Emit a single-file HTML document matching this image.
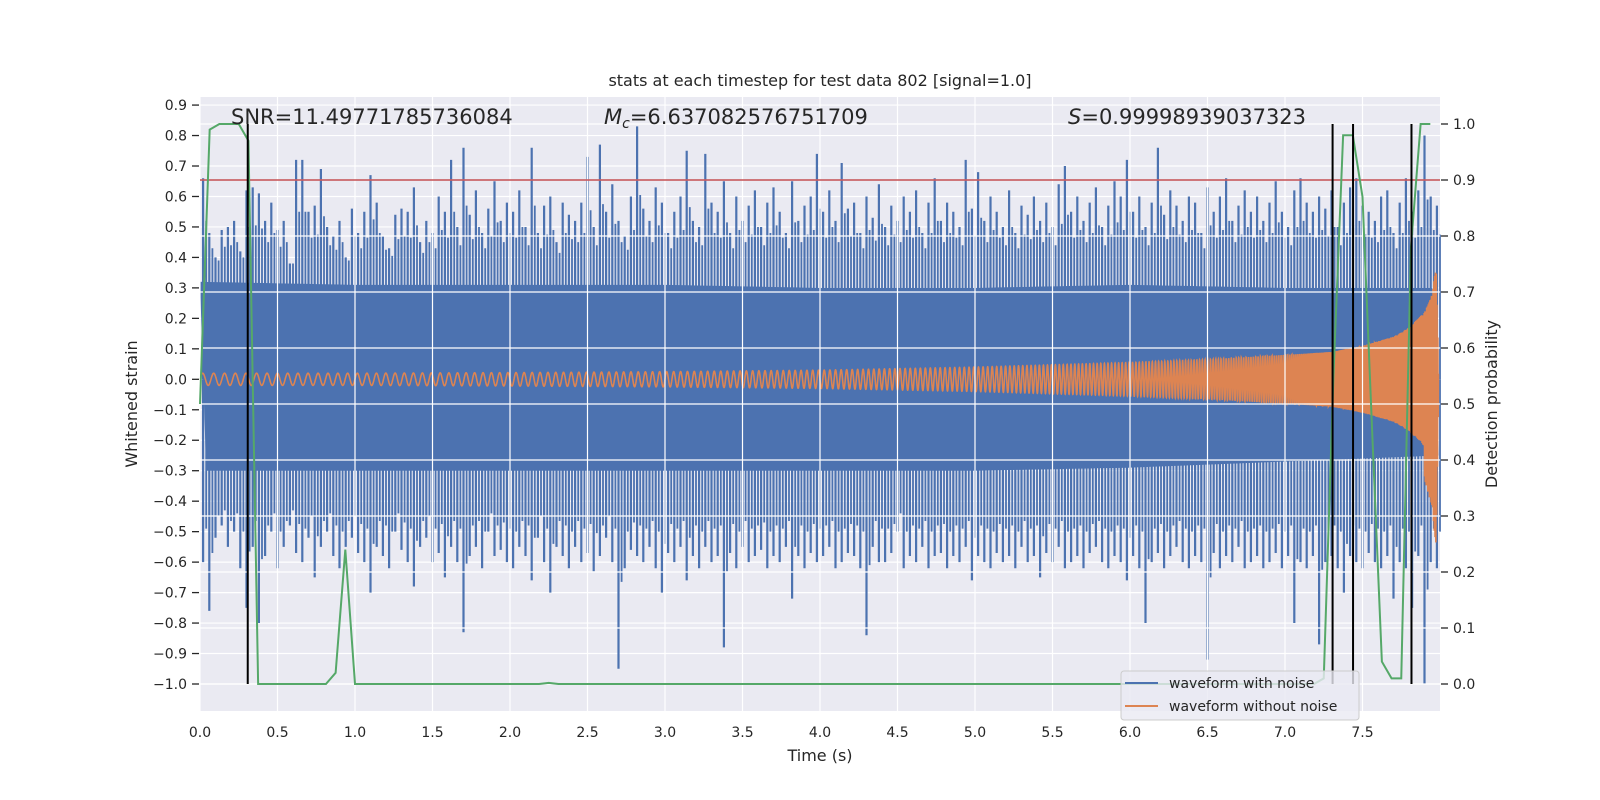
<!DOCTYPE html>
<html><head><meta charset="utf-8"><style>
body{margin:0;background:#fff;}
svg{display:block;font-family:"DejaVu Sans","Liberation Sans",sans-serif;}
</style></head><body>
<svg id="chart" width="1600" height="800" viewBox="0 0 1600 800">
<rect x="200" y="97" width="1240" height="614" fill="#eaeaf2"/>
<g id="gridUnder"></g>
<g id="blue"></g>
<g id="orange"></g>
<g id="gridOver"></g>
<g id="right"></g>
<g id="ticks"></g>
<text x="820" y="86" font-size="16" text-anchor="middle" fill="#262626">stats at each timestep for test data 802 [signal=1.0]</text>
<text x="231" y="124" font-size="21" fill="#262626">SNR=11.49771785736084</text>
<text x="604" y="124" font-size="21" fill="#262626"><tspan font-style="italic">M</tspan><tspan font-style="italic" font-size="14" dy="4">c</tspan><tspan dy="-4">=6.637082576751709</tspan></text>
<text x="1068" y="124" font-size="21" fill="#262626"><tspan font-style="italic">S</tspan>=0.99998939037323</text>
<text x="820" y="761" font-size="16" text-anchor="middle" fill="#262626">Time (s)</text>
<text transform="translate(137,404) rotate(-90)" font-size="16" text-anchor="middle" fill="#262626">Whitened strain</text>
<text transform="translate(1497,404) rotate(-90)" font-size="16" text-anchor="middle" fill="#262626">Detection probability</text>
<g>
<rect x="1121" y="671" width="238" height="49" rx="3" fill="#eaeaf2" fill-opacity="0.8" stroke="#cccccc"/>
<line x1="1125" y1="683" x2="1158" y2="683" stroke="#4c72b0" stroke-width="2"/>
<text x="1169" y="688" font-size="14" fill="#262626">waveform with noise</text>
<line x1="1125" y1="706" x2="1158" y2="706" stroke="#dd8452" stroke-width="2"/>
<text x="1169" y="711" font-size="14" fill="#262626">waveform without noise</text>
</g>
</svg>
<script>
const xTicks=[0,0.5,1,1.5,2,2.5,3,3.5,4,4.5,5,5.5,6,6.5,7,7.5];
const yTicks=[-1.0,-0.9,-0.8,-0.7,-0.6,-0.5,-0.4,-0.3,-0.2,-0.1,0.0,0.1,0.2,0.3,0.4,0.5,0.6,0.7,0.8,0.9];
const y2Ticks=[0.0,0.1,0.2,0.3,0.4,0.5,0.6,0.7,0.8,0.9,1.0];
const noiseStep=0.04;
const noiseHi=[0.66,0.48,0.40,0.49,0.50,0.52,0.42,0.62,0.63,0.61,
0.52,0.58,0.49,0.52,0.38,0.72,0.72,0.55,0.57,0.69,
0.50,0.47,0.52,0.40,0.56,0.48,0.55,0.67,0.58,0.47,
0.43,0.54,0.56,0.55,0.63,0.45,0.52,0.48,0.60,0.55,
0.72,0.50,0.76,0.54,0.62,0.48,0.56,0.65,0.52,0.58,
0.55,0.62,0.50,0.76,0.48,0.57,0.60,0.45,0.58,0.54,
0.52,0.58,0.73,0.50,0.77,0.55,0.64,0.52,0.47,0.60,
0.83,0.56,0.52,0.63,0.58,0.48,0.55,0.60,0.75,0.52,
0.50,0.74,0.58,0.55,0.65,0.48,0.60,0.52,0.57,0.62,
0.50,0.58,0.63,0.55,0.48,0.65,0.52,0.57,0.60,0.74,
0.55,0.62,0.52,0.71,0.56,0.58,0.48,0.60,0.53,0.64,
0.50,0.57,0.52,0.60,0.55,0.62,0.48,0.58,0.66,0.52,
0.58,0.55,0.50,0.72,0.56,0.68,0.52,0.60,0.55,0.50,
0.62,0.48,0.57,0.54,0.60,0.52,0.58,0.50,0.64,0.70,
0.55,0.60,0.52,0.58,0.63,0.50,0.57,0.65,0.60,0.72,
0.55,0.60,0.50,0.58,0.76,0.54,0.62,0.57,0.52,0.60,
0.58,0.48,0.63,0.55,0.60,0.66,0.52,0.57,0.62,0.55,
0.60,0.52,0.58,0.65,0.55,0.50,0.62,0.66,0.58,0.55,
0.60,0.56,0.62,0.50,0.58,0.63,0.66,0.57,0.55,0.52,
0.60,0.62,0.48,0.58,0.66,0.55,0.62,0.80,0.60,0.57];
const noiseLo=[-0.60,-0.76,-0.52,-0.48,-0.55,-0.50,-0.62,-0.75,-0.55,-0.80,
-0.58,-0.50,-0.62,-0.55,-0.48,-0.57,-0.60,-0.52,-0.65,-0.55,
-0.50,-0.58,-0.62,-0.55,-0.52,-0.57,-0.60,-0.70,-0.55,-0.58,
-0.62,-0.50,-0.56,-0.60,-0.68,-0.55,-0.52,-0.60,-0.57,-0.65,
-0.55,-0.60,-0.83,-0.58,-0.55,-0.62,-0.50,-0.58,-0.56,-0.60,
-0.62,-0.55,-0.58,-0.66,-0.52,-0.60,-0.70,-0.55,-0.58,-0.62,
-0.55,-0.60,-0.57,-0.63,-0.58,-0.52,-0.60,-0.95,-0.62,-0.56,
-0.58,-0.60,-0.55,-0.62,-0.70,-0.57,-0.60,-0.55,-0.66,-0.58,
-0.62,-0.55,-0.60,-0.58,-0.88,-0.57,-0.62,-0.55,-0.60,-0.58,
-0.56,-0.62,-0.58,-0.60,-0.55,-0.72,-0.58,-0.62,-0.57,-0.60,
-0.58,-0.55,-0.62,-0.60,-0.57,-0.58,-0.62,-0.84,-0.55,-0.60,
-0.60,-0.57,-0.50,-0.62,-0.58,-0.60,-0.55,-0.62,-0.58,-0.57,
-0.62,-0.58,-0.60,-0.55,-0.66,-0.58,-0.60,-0.62,-0.57,-0.60,
-0.58,-0.62,-0.55,-0.60,-0.58,-0.65,-0.57,-0.60,-0.55,-0.62,
-0.60,-0.58,-0.62,-0.57,-0.55,-0.60,-0.62,-0.58,-0.60,-0.66,
-0.58,-0.62,-0.80,-0.60,-0.57,-0.62,-0.58,-0.55,-0.60,-0.62,
-0.58,-0.60,-0.92,-0.57,-0.62,-0.58,-0.60,-0.55,-0.62,-0.60,
-0.58,-0.62,-0.60,-0.57,-0.62,-0.58,-0.80,-0.60,-0.62,-0.58,
-0.87,-0.60,-0.58,-0.62,-0.70,-0.58,-0.60,-0.62,-0.57,-0.60,
-0.62,-0.58,-0.72,-0.60,-0.62,-0.75,-0.58,-1.0,-0.60,-0.62];
const coreHi=[0.32,0.31,0.31,0.31,0.30,0.30,0.31,0.30,0.30];
const coreLo=[-0.30,-0.30,-0.30,-0.30,-0.30,-0.30,-0.29,-0.27,-0.25];
const chirpT=[0,1,2,3,4,5,6,6.5,7,7.3,7.5,7.7,7.8,7.9,7.95,7.975,7.99];
const chirpAmp=[0.02,0.02,0.022,0.025,0.03,0.04,0.055,0.065,0.08,0.09,0.11,0.14,0.17,0.22,0.28,0.38,0.05];
const chirpFreqT=[0,1,2,3,4,5,6,7,8];
const chirpFreq=[14,16,19,22,27,33,45,70,200];
const probT=[];for(let i=0;i<128;i++)probT.push(i*0.0625);
const probV=[0.5,0.99,1.0,1.0,1.0,0.97,0.0,0.0,0.0,0.0,0.0,0.0,0.0,0.0,0.02,0.24,
0.0,0,0,0,0,0,0,0,0,0,0,0,0,0,0,0,0,0,0,0,0.002,0,0,0,0,0,0,0,0,0,0,0,
0,0,0,0,0,0,0,0,0,0,0,0,0,0,0,0,0,0,0,0,0,0,0,0,0,0,0,0,0,0,0,0,
0,0,0,0,0,0,0,0,0,0,0,0,0,0,0,0,0,0,0,0,0,0,0,0,0,0,0,0,0,0,0,0,
0,0,0,0,0.01,0.55,0.98,0.98,0.87,0.45,0.04,0.01,0.01,0.78,1.0,1.0];
const vlineT=[0.308,7.307,7.439,7.816];
const threshold=0.9;

const NS='http://www.w3.org/2000/svg';
const X0=200,X1=1440,Yt=97,Yb=711;
const xs=t=>X0+t*155;
const ys=v=>684-(v+1.0)*304.7;
const y2=p=>684-p*560;
function el(tag,attrs,parent){const e=document.createElementNS(NS,tag);for(const k in attrs)e.setAttribute(k,attrs[k]);parent.appendChild(e);return e;}
function interp(ts,vs,t){if(t<=ts[0])return vs[0];for(let i=1;i<ts.length;i++){if(t<=ts[i]){const f=(t-ts[i-1])/(ts[i]-ts[i-1]);return vs[i-1]+f*(vs[i]-vs[i-1]);}}return vs[vs.length-1];}
const gU=document.getElementById('gridUnder'),gO=document.getElementById('gridOver');
yTicks.forEach(v=>{const l=el('line',{x1:X0,x2:X1,y1:ys(v),y2:ys(v),stroke:'#fff','stroke-width':1.2},gU);

});
xTicks.forEach(t=>{const l=el('line',{x1:xs(t),x2:xs(t),y1:Yt,y2:Yb,stroke:'#fff','stroke-width':1.2},gO);

});
y2Ticks.forEach(p=>{const l=el('line',{x1:X0,x2:X1,y1:y2(p),y2:y2(p),stroke:'#fff','stroke-width':1.2},gO);

});
const gB=document.getElementById('blue');
let dc='';
const cT=coreHi.map((_,i)=>i);
dc+=`M${xs(0)},${ys(interp(cT,coreHi,0))}`;
for(let t=0;t<=7.99;t+=0.05)dc+=`L${xs(t)},${ys(interp(cT,coreHi,t))}`;
for(let t=7.99;t>=0;t-=0.05)dc+=`L${xs(t)},${ys(interp(cT,coreLo,t))}`;
dc+='Z';
const cp=el('path',{d:dc,fill:'#4c72b0'},gB);


function spikes(arr,base,nm){let d='';arr.forEach((v,i)=>{const t=0.02+i*noiseStep,x=xs(t);
d+=`M${x-1.1},${ys(0)}L${x-1.1},${ys(v)}L${x+1.1},${ys(v)}L${x+1.1},${ys(0)}Z`;
const x2=xs(t+0.02),v2=base+(v-base)*0.5;
d+=`M${x2-0.9},${ys(0)}L${x2-0.9},${ys(v2)}L${x2+0.9},${ys(v2)}L${x2+0.9},${ys(0)}Z`;});
const p=el('path',{d:d,fill:'#4c72b0'},gB);

}
spikes(noiseHi,0.38,'noise-upper-spikes');
spikes(noiseLo,-0.38,'noise-lower-spikes');
const gOr=document.getElementById('orange');
let ph=0,pts=[];const dt=0.0005;
for(let t=0;t<=7.99;t+=dt){ph+=2*Math.PI*interp(chirpFreqT,chirpFreq,t)*dt;const a=interp(chirpT,chirpAmp,t);const sk=t>7.9?1.5:1;pts.push(xs(t).toFixed(2)+','+ys(a*Math.sin(ph)*(Math.sin(ph)<0?sk:1)).toFixed(2));}
const op=el('polyline',{points:pts.join(' '),fill:'none',stroke:'#dd8452','stroke-width':1.6},gOr);


const gR=document.getElementById('right');
const rl=el('line',{x1:X0,x2:X1,y1:y2(threshold),y2:y2(threshold),stroke:'#c44e52','stroke-width':1.6},gR);


const gp=el('polyline',{points:probT.map((t,i)=>xs(t)+','+y2(probV[i])).join(' '),fill:'none',stroke:'#55a868','stroke-width':2},gR);


vlineT.forEach(t=>{const l=el('line',{x1:xs(t),x2:xs(t),y1:y2(0),y2:y2(1),stroke:'#000','stroke-width':2},gR);

});
const gT=document.getElementById('ticks');
const fmt=v=>(v<0?'\u2212':'')+Math.abs(v).toFixed(1);
yTicks.forEach(v=>{const l=el('line',{x1:192,x2:199,y1:ys(v),y2:ys(v),stroke:'#262626','stroke-width':1.3},gT);


const tx=el('text',{x:187,y:ys(v)+5,'font-size':14,'text-anchor':'end',fill:'#262626'},gT);tx.textContent=fmt(v);

});
y2Ticks.forEach(p=>{const l=el('line',{x1:1441,x2:1448,y1:y2(p),y2:y2(p),stroke:'#262626','stroke-width':1.3},gT);


const tx=el('text',{x:1453,y:y2(p)+5,'font-size':14,fill:'#262626'},gT);tx.textContent=p.toFixed(1);

});
xTicks.forEach(t=>{const tx=el('text',{x:xs(t),y:737,'font-size':14,'text-anchor':'middle',fill:'#262626'},gT);tx.textContent=t.toFixed(1);

});
</script>
</body></html>
